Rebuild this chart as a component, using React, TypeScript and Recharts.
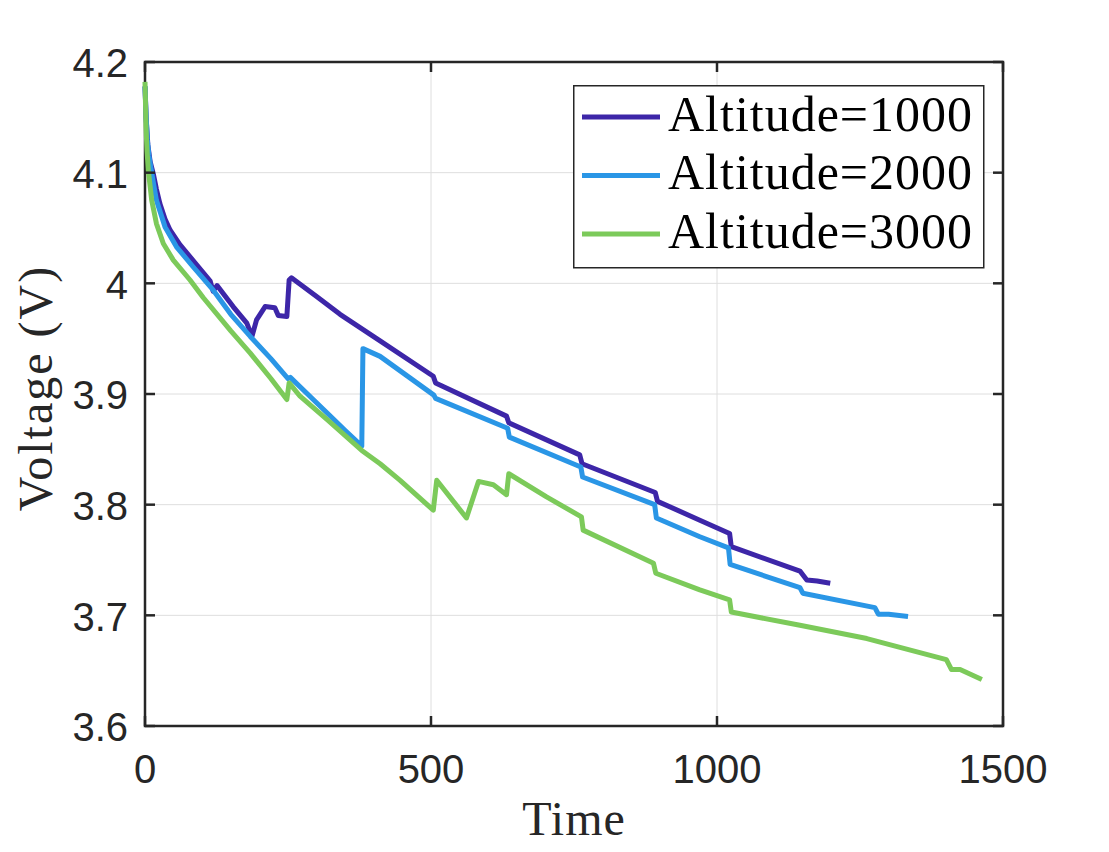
import React from 'react';
import { LineChart, Line, XAxis, YAxis, CartesianGrid, Legend, ReferenceArea } from 'recharts';

// ---- data ----
const t1000 = [0, 2, 5, 9, 14.5, 20, 26, 35, 44, 61, 90, 114, 119, 126, 154, 178, 187, 195, 210, 227, 233, 248, 252, 256, 300, 341, 411, 504, 508, 632, 636, 760, 764, 892, 896, 970, 1022, 1025, 1145, 1157, 1175, 1198];
const v1000 = [4.178, 4.15, 4.125, 4.11, 4.099, 4.085, 4.072, 4.058, 4.048, 4.035, 4.017, 4.002, 3.993, 3.998, 3.979, 3.964, 3.952, 3.967, 3.979, 3.978, 3.971, 3.97, 4.003, 4.005, 3.988, 3.972, 3.948, 3.916, 3.91, 3.88, 3.874, 3.845, 3.837, 3.811, 3.803, 3.786, 3.774, 3.762, 3.74, 3.732, 3.731, 3.729];

const t2000 = [0, 2, 4, 7, 11.7, 20, 35, 55, 84, 119, 150, 184, 220, 250, 254, 290, 318, 350, 379, 381, 411, 505, 508, 634, 637, 762, 765, 891, 894, 970, 1020, 1023, 1145, 1150, 1276, 1282, 1300, 1334];
const v2000 = [4.178, 4.15, 4.13, 4.115, 4.1, 4.075, 4.051, 4.033, 4.015, 3.994, 3.972, 3.952, 3.932, 3.914, 3.915, 3.897, 3.883, 3.867, 3.853, 3.941, 3.934, 3.899, 3.896, 3.869, 3.861, 3.834, 3.825, 3.8, 3.788, 3.771, 3.761, 3.746, 3.725, 3.72, 3.707, 3.701, 3.701, 3.699];

const t3000 = [0, 1, 1.7, 3.5, 5.8, 11.7, 20, 32, 49.5, 78.7, 102, 150, 184, 220, 248, 252, 271, 318, 379, 411, 446, 504, 510, 562, 583, 609, 632, 636, 702, 763, 766, 889, 893, 970, 1022, 1025, 1145, 1262, 1401, 1410, 1425, 1463];
const v3000 = [4.182, 4.16, 4.142, 4.12, 4.102, 4.075, 4.054, 4.036, 4.021, 4.003, 3.987, 3.957, 3.937, 3.914, 3.895, 3.91, 3.898, 3.877, 3.849, 3.837, 3.822, 3.795, 3.822, 3.788, 3.821, 3.818, 3.809, 3.828, 3.807, 3.789, 3.777, 3.747, 3.738, 3.723, 3.714, 3.703, 3.691, 3.679, 3.66, 3.651, 3.651, 3.642];

const seriesNames = ['Altitude=1000', 'Altitude=2000', 'Altitude=3000'];
const seriesColors = ['#3D26A8', '#2A96E6', '#7CCA5A'];
const xTicks = [0, 500, 1000, 1500];
const yTicks = [3.6, 3.7, 3.8, 3.9, 4.0, 4.1, 4.2];

const toRows = (ts: number[], vs: number[]) => ts.map((t, i) => ({ t, v: vs[i] }));
const d1000 = toRows(t1000, v1000);
const d2000 = toRows(t2000, v2000);
const d3000 = toRows(t3000, v3000);

// ---- layout ----
const W = 1109;
const H = 852;
const PLOT_TOP = 62;
const PLOT_LEFT = 145;
const PLOT_RIGHT = 1003;
const PLOT_BOTTOM = 726;
const AXIS_COLOR = '#262626';
const TICK_LEN = 10;
const SANS = '"Liberation Sans", Arial, Helvetica, sans-serif';
const SERIF = '"Liberation Serif", "Times New Roman", serif';

const XTick = (props: any) => {
  const { x, payload } = props;
  return (
    <g>
      <line x1={x} x2={x} y1={PLOT_BOTTOM} y2={PLOT_BOTTOM - TICK_LEN} stroke={AXIS_COLOR} strokeWidth={2.5} />
      <line x1={x} x2={x} y1={PLOT_TOP} y2={PLOT_TOP + TICK_LEN} stroke={AXIS_COLOR} strokeWidth={2.5} />
      <text x={x} y={PLOT_BOTTOM + 57} textAnchor="middle" fontFamily={SANS} fontSize={40} fill={AXIS_COLOR}>
        {String(payload.value)}
      </text>
    </g>
  );
};

const YTick = (props: any) => {
  const { y, payload } = props;
  const label = String(Number(Number(payload.value).toFixed(1)));
  return (
    <g>
      <line x1={PLOT_LEFT} x2={PLOT_LEFT + TICK_LEN} y1={y} y2={y} stroke={AXIS_COLOR} strokeWidth={2.5} />
      <line x1={PLOT_RIGHT} x2={PLOT_RIGHT - TICK_LEN} y1={y} y2={y} stroke={AXIS_COLOR} strokeWidth={2.5} />
      <text x={PLOT_LEFT - 17} y={y} dy="0.38em" textAnchor="end" fontFamily={SANS} fontSize={40} fill={AXIS_COLOR}>
        {label}
      </text>
    </g>
  );
};

const YLabel = (props: any) => {
  const vb = props.viewBox || {};
  const cx = 35;
  const cy = (vb.y ?? PLOT_TOP) + (vb.height ?? PLOT_BOTTOM - PLOT_TOP) / 2 - 6;
  return (
    <text
      x={cx}
      y={cy}
      transform={`rotate(-90 ${cx} ${cy})`}
      textAnchor="middle"
      dominantBaseline="central"
      fontFamily={SERIF}
      fontSize={48}
      letterSpacing={2}
      fill={AXIS_COLOR}
    >
      Voltage (V)
    </text>
  );
};

const XLabel = (props: any) => {
  const vb = props.viewBox || {};
  const cx = (vb.x ?? PLOT_LEFT) + (vb.width ?? PLOT_RIGHT - PLOT_LEFT) / 2;
  return (
    <text x={cx} y={835} textAnchor="middle" fontFamily={SERIF} fontSize={48} letterSpacing={1} fill={AXIS_COLOR}>
      Time
    </text>
  );
};

const renderLegend = (props: any) => {
  const payload = props.payload || [];
  return (
    <svg width={412} height={184} style={{ display: 'block' }}>
      <rect x={0.75} y={0.75} width={410} height={182} fill="#ffffff" stroke={AXIS_COLOR} strokeWidth={1.5} />
      {payload.map((p: any, i: number) => {
        const ly = 32 + i * 58.5;
        return (
          <g key={i}>
            <line x1={9} x2={87} y1={ly} y2={ly} stroke={p.color} strokeWidth={5} />
            <text x={95} y={ly + 13.5} fontFamily={SERIF} fontSize={50} letterSpacing={1} fill="#000000">
              {p.value}
            </text>
          </g>
        );
      })}
    </svg>
  );
};

export default function App() {
  return (
    <div style={{ position: 'absolute', left: 0, top: 0, width: W, height: H, background: '#ffffff' }}>
      <LineChart width={W} height={H} margin={{ top: PLOT_TOP, right: W - PLOT_RIGHT, left: 0, bottom: 0 }}>
        <CartesianGrid stroke="#dedede" strokeWidth={1} />
        <XAxis
          dataKey="t"
          type="number"
          domain={[0, 1500]}
          ticks={xTicks}
          allowDuplicatedCategory={false}
          axisLine={false}
          tickLine={false}
          tickSize={0}
          tickMargin={0}
          height={H - PLOT_BOTTOM}
          tick={<XTick />}
          label={<XLabel />}
        />
        <YAxis
          type="number"
          domain={[3.6, 4.2]}
          ticks={yTicks}
          allowDataOverflow
          axisLine={false}
          tickLine={false}
          tickSize={0}
          tickMargin={0}
          width={PLOT_LEFT}
          tick={<YTick />}
          label={<YLabel />}
        />
        <ReferenceArea x1={0} x2={1500} y1={3.6} y2={4.2} fill="none" fillOpacity={0} stroke={AXIS_COLOR} strokeWidth={2.5} ifOverflow="visible" />
        <Line data={d1000} dataKey="v" name={seriesNames[0]} stroke={seriesColors[0]} strokeWidth={5} dot={false} isAnimationActive={false} strokeLinejoin="round" />
        <Line data={d2000} dataKey="v" name={seriesNames[1]} stroke={seriesColors[1]} strokeWidth={5} dot={false} isAnimationActive={false} strokeLinejoin="round" />
        <Line data={d3000} dataKey="v" name={seriesNames[2]} stroke={seriesColors[2]} strokeWidth={5} dot={false} isAnimationActive={false} strokeLinejoin="round" />
        <Legend
          layout="horizontal"
          verticalAlign="middle"
          align="center"
          content={renderLegend}
          wrapperStyle={{ left: 573, top: 85, width: 412, height: 184 }}
        />
      </LineChart>
    </div>
  );
}
